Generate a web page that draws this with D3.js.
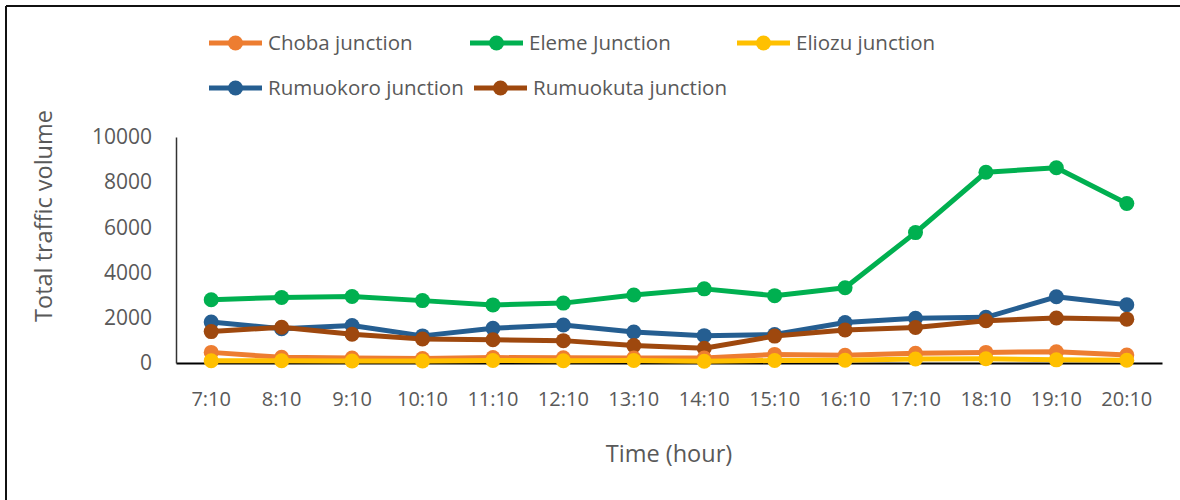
<!DOCTYPE html>
<html><head><meta charset="utf-8">
<script src="https://cdn.jsdelivr.net/npm/d3@7"></script>
<style>body{margin:0;background:#fff}svg{display:block}text{font-family:"Open Sans",sans-serif;fill:#595959}</style>
</head><body><svg id="c" width="1180" height="500"></svg>
<script>
const categories = ["7:10","8:10","9:10","10:10","11:10","12:10","13:10","14:10","15:10","16:10","17:10","18:10","19:10","20:10"];
const seriesNames = ["Choba junction","Eleme Junction","Eliozu junction","Rumuokoro junction","Rumuokuta junction"];
const seriesColors = ["#ED7D31","#00B050","#FFC000","#255E91","#9E480E"];
const choba = [470,250,220,200,240,230,220,220,380,340,430,470,500,350];
const eleme = [2800,2900,2940,2760,2570,2650,3010,3280,2980,3330,5770,8440,8640,7060];
const eliozu = [100,100,90,90,110,100,110,80,110,120,180,190,140,120];
const rumuokoro = [1810,1520,1660,1200,1540,1680,1370,1210,1260,1790,1980,2020,2930,2580];
const rumuokuta = [1390,1580,1270,1060,1030,990,770,650,1190,1460,1570,1870,1990,1940];
const yTicks = [0,2000,4000,6000,8000,10000];
const xTitle = "Time (hour)", yTitle = "Total traffic volume";

const series = [choba, eleme, eliozu, rumuokoro, rumuokuta];
const drawOrder = [3,4,1,0,2];
const svg = d3.select("#c");
svg.append("line").attr("x1",6).attr("x2",1180).attr("y1",6).attr("y2",6).attr("stroke","#111").attr("stroke-width",2);
svg.append("line").attr("x1",6).attr("x2",6).attr("y1",6).attr("y2",500).attr("stroke","#111").attr("stroke-width",2);

const x = d3.scaleBand().domain(categories).range([176,1162]);
const y = d3.scaleLinear().domain([0,10000]).range([363,137]);

const xa = svg.append("g").attr("transform","translate(0,363)").call(d3.axisBottom(x).tickSize(0).tickPadding(29));
xa.select(".domain").attr("stroke","#000").attr("stroke-width",2);
xa.selectAll("text").style("font-size","20px").attr("fill","#595959").style("font-family","'Open Sans',sans-serif");
const ya = svg.append("g").attr("transform","translate(176,0)").call(d3.axisLeft(y).tickValues(yTicks).tickSize(0).tickPadding(24).tickFormat(d3.format("d")));
ya.select(".domain").attr("stroke","#333").attr("stroke-width",1.5);
ya.selectAll("text").style("font-size","21px").attr("fill","#595959").style("font-family","'Open Sans',sans-serif");

svg.append("text").attr("x",669).attr("y",462).attr("text-anchor","middle").style("font-size","23.5px").text(xTitle);
svg.append("text").attr("transform","translate(52,216) rotate(-90)").attr("text-anchor","middle").style("font-size","23.5px").text(yTitle);

const line = d3.line().x((d,i)=>x(categories[i])+x.bandwidth()/2).y(d=>y(d));
drawOrder.forEach(k=>{
  const g = svg.append("g");
  g.append("path").datum(series[k]).attr("d",line).attr("fill","none").attr("stroke",seriesColors[k]).attr("stroke-width",5).attr("stroke-linejoin","round");
  g.selectAll("circle").data(series[k]).join("circle").attr("cx",(d,i)=>x(categories[i])+x.bandwidth()/2).attr("cy",d=>y(d)).attr("r",7.5).attr("fill",seriesColors[k]);
});

const legPos = [[209,43],[470,43],[737,43],[209,88],[474,88]];
seriesNames.forEach((n,k)=>{
  const [lx,ly] = legPos[k];
  const g = svg.append("g");
  g.append("line").attr("x1",lx).attr("x2",lx+53).attr("y1",ly).attr("y2",ly).attr("stroke",seriesColors[k]).attr("stroke-width",5);
  g.append("circle").attr("cx",lx+26.5).attr("cy",ly).attr("r",7.5).attr("fill",seriesColors[k]);
  g.append("text").attr("x",lx+59).attr("y",ly+7).style("font-size","20.5px").text(n);
});
</script></body></html>
